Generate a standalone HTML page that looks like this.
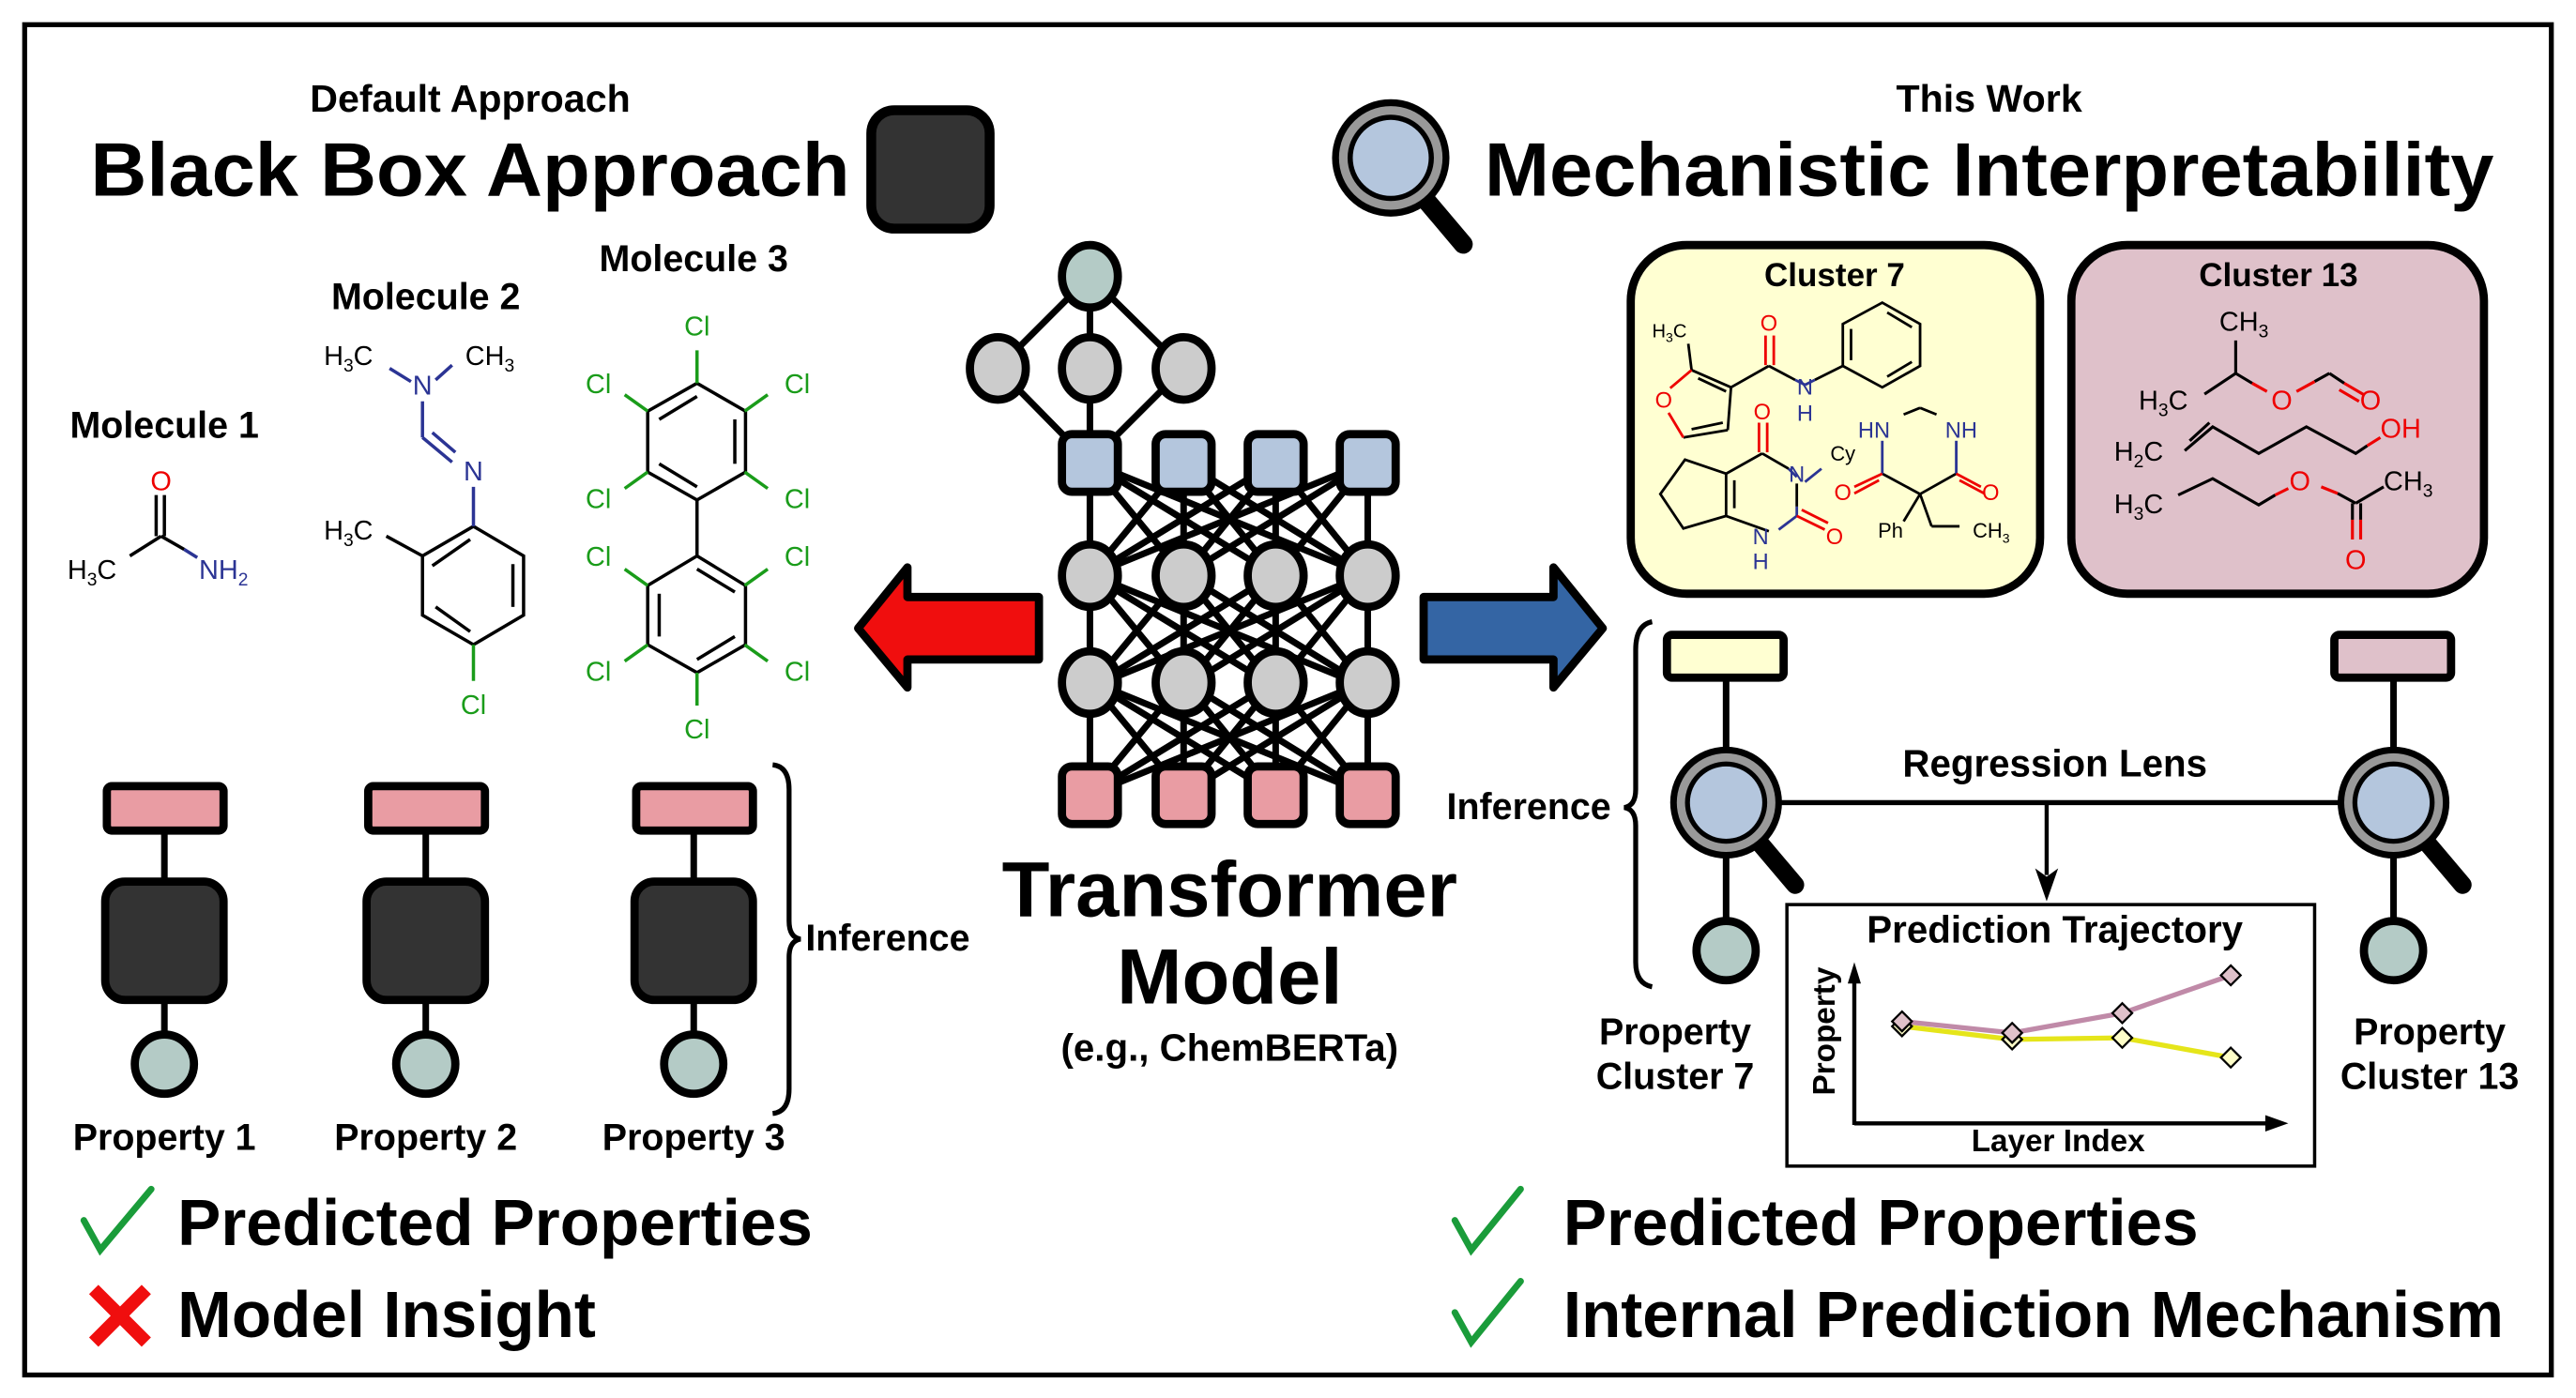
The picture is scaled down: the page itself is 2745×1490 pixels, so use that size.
<!DOCTYPE html>
<html><head><meta charset="utf-8"><style>
html,body{margin:0;padding:0;background:#fff}
svg{display:block}
text{font-family:"Liberation Sans",sans-serif}
.b{font-weight:bold}
.m{font-size:16.5px}
.c{fill:#1a9c1a}
.n{fill:#2b3494}
.o{fill:#ee0000}
</style></head><body>
<svg width="2745" height="1490" viewBox="0 0 1567 850" preserveAspectRatio="none" xmlns="http://www.w3.org/2000/svg">
<defs>
<g id="mag">
<line x1="20" y1="24" x2="42" y2="50" stroke="#000" stroke-width="11" stroke-linecap="round"/>
<circle r="34" fill="#000"/><circle r="30" fill="#999"/><circle r="25" fill="#000"/><circle r="22" fill="#b4c6dd"/>
</g>
</defs>
<rect x="15" y="15" width="1537" height="821" fill="#fff" stroke="#000" stroke-width="3"/>

<text x="286" y="68" text-anchor="middle" class="b" font-size="23.5">Default Approach</text>
<text x="55" y="119" class="b" font-size="46" textLength="462" lengthAdjust="spacingAndGlyphs">Black Box Approach</text>
<rect x="530" y="67" width="72" height="72" rx="14" fill="#333" stroke="#000" stroke-width="6"/>
<use href="#mag" transform="translate(846,96) scale(1.05)"/>
<text x="1210" y="68" text-anchor="middle" class="b" font-size="23.5">This Work</text>
<text x="903" y="119" class="b" font-size="46" textLength="614" lengthAdjust="spacingAndGlyphs">Mechanistic Interpretability</text>

<text x="100" y="266" text-anchor="middle" class="b" font-size="22.5">Molecule 1</text>
<text x="259" y="188" text-anchor="middle" class="b" font-size="22.5">Molecule 2</text>
<text x="422" y="165" text-anchor="middle" class="b" font-size="22.5">Molecule 3</text>

<g stroke="#000" stroke-width="2" fill="none">
<line x1="79" y1="338" x2="98" y2="326"/>
<line x1="98" y1="326" x2="112" y2="334" />
<line x1="95" y1="326" x2="95" y2="301"/><line x1="100" y1="326" x2="100" y2="301"/>
</g>
<line x1="112" y1="334" x2="120" y2="339" stroke="#2b3494" stroke-width="2"/>
<text x="98" y="298" text-anchor="middle" class="m o">O</text>
<text x="41" y="352" class="m">H<tspan font-size="11" dy="4">3</tspan><tspan dy="-4">C</tspan></text>
<text x="121" y="352" class="m n">NH<tspan font-size="11" dy="4">2</tspan></text>

<g stroke="#000" stroke-width="2" fill="none">
<polygon points="288,320 318.5,338 318.5,374 288,392 257,374 257,338"/>
<line x1="263" y1="344" x2="286" y2="328"/><line x1="312" y1="343" x2="312" y2="369"/><line x1="265" y1="369" x2="286" y2="384"/>
<line x1="257" y1="338" x2="235" y2="326"/>
</g>
<g stroke="#2b3494" stroke-width="2">
<line x1="237" y1="224" x2="250" y2="232"/><line x1="275" y1="222" x2="265" y2="231"/>
<line x1="257" y1="244" x2="257" y2="266"/><line x1="257" y1="266" x2="275" y2="281"/><line x1="263" y1="263" x2="277" y2="275"/>
<line x1="288" y1="296" x2="288" y2="320"/>
</g>
<line x1="288" y1="392" x2="288" y2="414" stroke="#1a9c1a" stroke-width="2"/>
<text x="197" y="222" class="m">H<tspan font-size="11" dy="4">3</tspan><tspan dy="-4">C</tspan></text>
<text x="283" y="222" class="m">CH<tspan font-size="11" dy="4">3</tspan></text>
<text x="257" y="240" text-anchor="middle" class="m n">N</text>
<text x="288" y="292" text-anchor="middle" class="m n">N</text>
<text x="197" y="328" class="m">H<tspan font-size="11" dy="4">3</tspan><tspan dy="-4">C</tspan></text>
<text x="288" y="434" text-anchor="middle" class="m c">Cl</text>

<g stroke="#000" stroke-width="2" fill="none">
<polygon points="424,233 453.5,250 453.5,287 424,304 394,287 394,250"/>
<line x1="424" y1="241" x2="401" y2="255"/><line x1="447" y1="255" x2="447" y2="282"/><line x1="401" y1="282" x2="424" y2="296"/>
<polygon points="424,338 453.5,356 453.5,392 424,409 394,392 394,356"/>
<line x1="424" y1="346" x2="447" y2="360"/><line x1="401" y1="361" x2="401" y2="387"/><line x1="447" y1="387" x2="424" y2="401"/>
<line x1="424" y1="304" x2="424" y2="338"/>
</g>
<g stroke="#1a9c1a" stroke-width="2">
<line x1="424" y1="233" x2="424" y2="213"/><line x1="394" y1="250" x2="380" y2="240"/><line x1="453" y1="250" x2="467" y2="240"/>
<line x1="394" y1="287" x2="380" y2="297"/><line x1="453" y1="287" x2="467" y2="297"/>
<line x1="394" y1="356" x2="380" y2="346"/><line x1="453" y1="356" x2="467" y2="346"/>
<line x1="394" y1="392" x2="380" y2="402"/><line x1="453" y1="392" x2="467" y2="402"/>
<line x1="424" y1="409" x2="424" y2="429"/>
</g>
<g class="m c" text-anchor="middle">
<text x="424" y="204">Cl</text><text x="364" y="239">Cl</text><text x="485" y="239">Cl</text>
<text x="364" y="309">Cl</text><text x="485" y="309">Cl</text><text x="364" y="344">Cl</text><text x="485" y="344">Cl</text>
<text x="364" y="414">Cl</text><text x="485" y="414">Cl</text><text x="424" y="449">Cl</text>
</g>

<g stroke="#000" stroke-width="4">
<line x1="100" y1="505" x2="100" y2="535"/><line x1="100" y1="608" x2="100" y2="630"/>
<line x1="259" y1="505" x2="259" y2="535"/><line x1="259" y1="608" x2="259" y2="630"/>
<line x1="422" y1="505" x2="422" y2="535"/><line x1="422" y1="608" x2="422" y2="630"/>
</g>
<g stroke="#000" stroke-width="5">
<rect x="65" y="478" width="71" height="27" rx="3" fill="#e99ca3"/>
<rect x="224" y="478" width="71" height="27" rx="3" fill="#e99ca3"/>
<rect x="387" y="478" width="71" height="27" rx="3" fill="#e99ca3"/>
<rect x="64" y="536" width="72" height="72" rx="12" fill="#333"/>
<rect x="223" y="536" width="72" height="72" rx="12" fill="#333"/>
<rect x="386" y="536" width="72" height="72" rx="12" fill="#333"/>
<circle cx="100" cy="647" r="18" fill="#b4cbc6"/>
<circle cx="259" cy="647" r="18" fill="#b4cbc6"/>
<circle cx="422" cy="647" r="18" fill="#b4cbc6"/>
</g>
<g class="b" font-size="22.5" text-anchor="middle">
<text x="100" y="699">Property 1</text><text x="259" y="699">Property 2</text><text x="422" y="699">Property 3</text>
</g>
<path d="M470,465 Q480,466 480,480 L480,560 Q480,570 487,571 Q480,572 480,582 L480,662 Q480,676 470,677" fill="none" stroke="#000" stroke-width="3"/>
<text x="490" y="578" class="b" font-size="22.5">Inference</text>

<g stroke="#000" stroke-width="4" fill="none">
<line x1="663" y1="168" x2="607" y2="224"/><line x1="663" y1="168" x2="663" y2="224"/><line x1="663" y1="168" x2="720" y2="224"/>
<line x1="607" y1="224" x2="663" y2="281"/><line x1="663" y1="224" x2="663" y2="281"/><line x1="720" y1="224" x2="663" y2="281"/>
<g id="mesh">
<line x1="663" y1="281" x2="663" y2="350"/><line x1="663" y1="281" x2="720" y2="350"/><line x1="663" y1="281" x2="776" y2="350"/><line x1="663" y1="281" x2="832" y2="350"/>
<line x1="720" y1="281" x2="663" y2="350"/><line x1="720" y1="281" x2="720" y2="350"/><line x1="720" y1="281" x2="776" y2="350"/><line x1="720" y1="281" x2="832" y2="350"/>
<line x1="776" y1="281" x2="663" y2="350"/><line x1="776" y1="281" x2="720" y2="350"/><line x1="776" y1="281" x2="776" y2="350"/><line x1="776" y1="281" x2="832" y2="350"/>
<line x1="832" y1="281" x2="663" y2="350"/><line x1="832" y1="281" x2="720" y2="350"/><line x1="832" y1="281" x2="776" y2="350"/><line x1="832" y1="281" x2="832" y2="350"/>
</g>
<use href="#mesh" transform="translate(0,68)"/>
<use href="#mesh" transform="translate(0,133)"/>
</g>
<g stroke="#000" stroke-width="5">
<ellipse cx="663" cy="168" rx="17" ry="19" fill="#b4cbc6"/>
<ellipse cx="607" cy="224" rx="17" ry="19" fill="#ccc"/><ellipse cx="663" cy="224" rx="17" ry="19" fill="#ccc"/><ellipse cx="720" cy="224" rx="17" ry="19" fill="#ccc"/>
<rect x="646" y="264" width="34" height="35" rx="6" fill="#b4c6dd"/><rect x="703" y="264" width="34" height="35" rx="6" fill="#b4c6dd"/>
<rect x="759" y="264" width="34" height="35" rx="6" fill="#b4c6dd"/><rect x="815" y="264" width="34" height="35" rx="6" fill="#b4c6dd"/>
<ellipse cx="663" cy="350" rx="17" ry="19" fill="#ccc"/><ellipse cx="720" cy="350" rx="17" ry="19" fill="#ccc"/><ellipse cx="776" cy="350" rx="17" ry="19" fill="#ccc"/><ellipse cx="832" cy="350" rx="17" ry="19" fill="#ccc"/>
<ellipse cx="663" cy="415" rx="17" ry="19" fill="#ccc"/><ellipse cx="720" cy="415" rx="17" ry="19" fill="#ccc"/><ellipse cx="776" cy="415" rx="17" ry="19" fill="#ccc"/><ellipse cx="832" cy="415" rx="17" ry="19" fill="#ccc"/>
<rect x="646" y="466" width="34" height="35" rx="6" fill="#e99ca3"/><rect x="703" y="466" width="34" height="35" rx="6" fill="#e99ca3"/>
<rect x="759" y="466" width="34" height="35" rx="6" fill="#e99ca3"/><rect x="815" y="466" width="34" height="35" rx="6" fill="#e99ca3"/>
</g>

<polygon points="522,382 552,345 552,363 632,363 632,401 552,401 552,418" fill="#f00e0e" stroke="#000" stroke-width="5" stroke-linejoin="round"/>
<polygon points="975,382 945,345 945,363 866,363 866,401 945,401 945,418" fill="#3465a4" stroke="#000" stroke-width="5" stroke-linejoin="round"/>

<text x="748" y="557" text-anchor="middle" class="b" font-size="47.5">Transformer</text>
<text x="748" y="610" text-anchor="middle" class="b" font-size="47.5">Model</text>
<text x="748" y="645" text-anchor="middle" class="b" font-size="23">(e.g., ChemBERTa)</text>

<rect x="992" y="149" width="249" height="212" rx="34" fill="#ffffd2" stroke="#000" stroke-width="5"/>
<rect x="1260" y="149" width="251" height="212" rx="34" fill="#dfc1ca" stroke="#000" stroke-width="5"/>
<text x="1116" y="174" text-anchor="middle" class="b" font-size="20">Cluster 7</text>
<text x="1386" y="174" text-anchor="middle" class="b" font-size="20">Cluster 13</text>

<g font-size="13.5">
<g stroke="#000" stroke-width="1.6" fill="none">
<line x1="1027" y1="209" x2="1029" y2="225"/>
<line x1="1029" y1="225" x2="1053" y2="235.5"/><line x1="1033" y1="230" x2="1050" y2="238"/>
<line x1="1053" y1="235.5" x2="1051" y2="261.5"/><line x1="1051" y1="261.5" x2="1024" y2="266"/><line x1="1048" y1="257" x2="1029" y2="261"/>
<line x1="1053" y1="235.5" x2="1076" y2="222.5"/><line x1="1076" y1="222.5" x2="1092" y2="231"/>
<line x1="1104" y1="231" x2="1121" y2="222.5"/>
<polygon points="1121,222.5 1121,197 1145,184 1168,197 1168,222.5 1145,235.5"/>
<line x1="1126" y1="219" x2="1126" y2="200"/><line x1="1148" y1="190" x2="1163" y2="199"/><line x1="1163" y1="220" x2="1148" y2="229"/>
<line x1="1072" y1="275.7" x2="1088" y2="285"/><line x1="1093" y1="294" x2="1093" y2="308"/>
<line x1="1076" y1="323" x2="1050" y2="313.7"/><line x1="1050" y1="313.7" x2="1050" y2="288"/><line x1="1055" y1="309" x2="1055" y2="292"/>
<line x1="1050" y1="288" x2="1072" y2="275.7"/>
<polyline points="1050,288 1025,279.5 1010,300.4 1024,321.3 1050,313.7"/>
<line x1="1145" y1="288" x2="1168" y2="300.4"/><line x1="1168" y1="300.4" x2="1190" y2="288"/>
<line x1="1168" y1="300.4" x2="1158" y2="317"/><line x1="1168" y1="300.4" x2="1175" y2="320"/><line x1="1175" y1="320" x2="1192" y2="320"/>
<line x1="1158" y1="252" x2="1168" y2="248"/><line x1="1168" y1="248" x2="1178" y2="252"/>
</g>
<g stroke="#2b3494" stroke-width="1.6">
<line x1="1092" y1="231" x2="1098" y2="234"/><line x1="1104" y1="231" x2="1098" y2="234"/>
<line x1="1088" y1="285" x2="1093" y2="290"/><line x1="1093" y1="308" x2="1093" y2="313.7"/>
<line x1="1093" y1="313.7" x2="1082" y2="322"/><line x1="1098" y1="293" x2="1108" y2="285"/>
<line x1="1145" y1="268" x2="1145" y2="288"/><line x1="1190" y1="268" x2="1190" y2="288"/>
</g>
<g stroke="#ee0000" stroke-width="1.6">
<line x1="1029" y1="225" x2="1016" y2="236"/><line x1="1024" y1="266" x2="1015" y2="251"/>
<line x1="1074" y1="222" x2="1074" y2="204"/><line x1="1079" y1="222" x2="1079" y2="204"/>
<line x1="1070" y1="275" x2="1070" y2="257"/><line x1="1075" y1="275" x2="1075" y2="257"/>
<line x1="1093" y1="313.7" x2="1110" y2="322"/><line x1="1096" y1="310" x2="1112" y2="318"/>
<line x1="1145" y1="288" x2="1128" y2="296"/><line x1="1143" y1="292" x2="1128" y2="300"/>
<line x1="1190" y1="288" x2="1205" y2="296"/><line x1="1192" y1="292" x2="1207" y2="300"/>
</g>
<text x="1005" y="205" font-size="11.5">H<tspan font-size="8" dy="3">3</tspan><tspan dy="-3">C</tspan></text>
<text x="1012" y="248" class="o" text-anchor="middle">O</text>
<text x="1076" y="201" class="o" text-anchor="middle">O</text>
<text x="1098" y="240" class="n" text-anchor="middle">N</text>
<text x="1098" y="256" class="n" text-anchor="middle">H</text>
<text x="1072" y="255" class="o" text-anchor="middle">O</text>
<text x="1093" y="293" class="n" text-anchor="middle">N</text>
<text x="1121" y="280" text-anchor="middle" font-size="12.5">Cy</text>
<text x="1071" y="331" class="n" text-anchor="middle">N</text>
<text x="1071" y="346" class="n" text-anchor="middle">H</text>
<text x="1116" y="331" class="o" text-anchor="middle">O</text>
<text x="1140" y="266" class="n" text-anchor="middle">HN</text>
<text x="1193" y="266" class="n" text-anchor="middle">NH</text>
<text x="1121" y="304" class="o" text-anchor="middle">O</text>
<text x="1211" y="304" class="o" text-anchor="middle">O</text>
<text x="1150" y="327" text-anchor="middle" font-size="12.5">Ph</text>
<text x="1200" y="327" font-size="12.5">CH<tspan font-size="8" dy="3">3</tspan></text>

<g stroke="#000" stroke-width="1.8" fill="none">
<line x1="1360" y1="207" x2="1360" y2="227"/><line x1="1341" y1="239.6" x2="1360" y2="227"/><line x1="1360" y1="227" x2="1370" y2="233"/>
<line x1="1408" y1="232" x2="1417" y2="227"/><line x1="1417" y1="227" x2="1426" y2="233"/>
<polyline points="1329,274 1346,259.5 1374,275.7 1403,259.5 1433,275.7 1440,271"/>
<line x1="1332" y1="268" x2="1344" y2="257"/>
<polyline points="1325,301 1346,291 1374,307 1384,301"/>
<line x1="1422" y1="300" x2="1433" y2="306"/><line x1="1433" y1="306" x2="1450" y2="296"/><line x1="1431" y1="306" x2="1431" y2="316"/><line x1="1436" y1="306" x2="1436" y2="316"/>
</g>
<g stroke="#ee0000" stroke-width="1.8">
<line x1="1370" y1="233" x2="1379" y2="238"/><line x1="1397" y1="238" x2="1408" y2="232"/>
<line x1="1426" y1="233" x2="1438" y2="240"/><line x1="1423" y1="237" x2="1435" y2="244"/>
<line x1="1440" y1="271" x2="1448" y2="266"/>
<line x1="1384" y1="301" x2="1392" y2="297"/><line x1="1412" y1="296" x2="1422" y2="300"/>
<line x1="1431" y1="316" x2="1431" y2="328"/><line x1="1436" y1="316" x2="1436" y2="328"/>
</g>
<text x="1350" y="201" font-size="16.5">CH<tspan font-size="11" dy="4">3</tspan></text>
<text x="1301" y="249" font-size="16.5">H<tspan font-size="11" dy="4">3</tspan><tspan dy="-4">C</tspan></text>
<text x="1388" y="249" font-size="16.5" class="o" text-anchor="middle">O</text>
<text x="1442" y="249" font-size="16.5" class="o" text-anchor="middle">O</text>
<text x="1286" y="280" font-size="16.5">H<tspan font-size="11" dy="4">2</tspan><tspan dy="-4">C</tspan></text>
<text x="1448" y="266" font-size="16.5" class="o">OH</text>
<text x="1286" y="312" font-size="16.5">H<tspan font-size="11" dy="4">3</tspan><tspan dy="-4">C</tspan></text>
<text x="1399" y="298" font-size="16.5" class="o" text-anchor="middle">O</text>
<text x="1450" y="298" font-size="16.5">CH<tspan font-size="11" dy="4">3</tspan></text>
<text x="1433" y="346" font-size="16.5" class="o" text-anchor="middle">O</text>
</g>

<path d="M1005,378 Q995,380 995,395 L995,480 Q995,490 988,491 Q995,492 995,502 L995,585 Q995,598 1005,600" fill="none" stroke="#000" stroke-width="3"/>
<text x="880" y="498" class="b" font-size="22.5">Inference</text>
<g stroke="#000" stroke-width="4">
<line x1="1050" y1="412" x2="1050" y2="460"/><line x1="1050" y1="515" x2="1050" y2="562"/>
<line x1="1456" y1="412" x2="1456" y2="460"/><line x1="1456" y1="515" x2="1456" y2="562"/>
<line x1="1082" y1="488" x2="1424" y2="488" stroke-width="3"/>
<line x1="1245" y1="488" x2="1245" y2="532" stroke-width="2.5"/>
</g>
<polygon points="1238,528 1245,548 1252,528 1245,533" fill="#000"/>
<rect x="1014" y="386" width="71" height="26" rx="3" fill="#ffffd2" stroke="#000" stroke-width="5"/>
<rect x="1420" y="386" width="71" height="26" rx="3" fill="#dfc1ca" stroke="#000" stroke-width="5"/>
<use href="#mag" transform="translate(1050,488)"/>
<use href="#mag" transform="translate(1456,488)"/>
<circle cx="1050" cy="578" r="18" fill="#b4cbc6" stroke="#000" stroke-width="5"/>
<circle cx="1456" cy="578" r="18" fill="#b4cbc6" stroke="#000" stroke-width="5"/>
<text x="1250" y="472" text-anchor="middle" class="b" font-size="23">Regression Lens</text>
<g class="b" font-size="22.5" text-anchor="middle">
<text x="1019" y="635">Property</text><text x="1019" y="662">Cluster 7</text>
<text x="1478" y="635">Property</text><text x="1478" y="662">Cluster 13</text>
</g>

<rect x="1087" y="550" width="321" height="159" fill="#fff" stroke="#000" stroke-width="2"/>
<text x="1250" y="573" text-anchor="middle" class="b" font-size="23">Prediction Trajectory</text>
<g stroke="#000" stroke-width="2.5">
<line x1="1128" y1="684" x2="1128" y2="595"/><line x1="1128" y1="683" x2="1380" y2="683"/>
</g>
<polygon points="1124,598 1128,585 1132,598" fill="#000"/>
<polygon points="1378,678 1392,683 1378,688" fill="#000"/>
<text x="1252" y="700" text-anchor="middle" class="b" font-size="19">Layer Index</text>
<text transform="translate(1116,627) rotate(-90)" text-anchor="middle" class="b" font-size="19">Property</text>
<polyline points="1157,624 1224,632 1291,631 1357,643" fill="none" stroke="#e5e51a" stroke-width="3"/>
<polyline points="1157,621 1224,628 1291,616 1357,593" fill="none" stroke="#c08aa8" stroke-width="3"/>
<g stroke="#000" stroke-width="1.3">
<g fill="#ffffc8">
<polygon points="1157,618 1163,624 1157,630 1151,624"/><polygon points="1224,626 1230,632 1224,638 1218,632"/>
<polygon points="1291,625 1297,631 1291,637 1285,631"/><polygon points="1357,637 1363,643 1357,649 1351,643"/>
</g>
<g fill="#dfc1ca">
<polygon points="1157,615 1163,621 1157,627 1151,621"/><polygon points="1224,622 1230,628 1224,634 1218,628"/>
<polygon points="1291,610 1297,616 1291,622 1285,616"/><polygon points="1357,587 1363,593 1357,599 1351,593"/>
</g>
</g>

<g fill="none" stroke="#1a9c3a" stroke-width="4" stroke-linecap="round">
<path d="M51,742 L61,760 L92,723"/>
<path d="M885,742 L895,760 L925,723"/>
<path d="M885,798 L895,816 L925,779"/>
</g>
<g stroke="#f00e0e" stroke-width="8">
<line x1="57" y1="784" x2="89" y2="816"/><line x1="89" y1="784" x2="57" y2="816"/>
</g>
<g class="b" font-size="39.5">
<text x="108" y="757">Predicted Properties</text>
<text x="108" y="813">Model Insight</text>
<text x="951" y="757">Predicted Properties</text>
<text x="951" y="813" textLength="572" lengthAdjust="spacingAndGlyphs">Internal Prediction Mechanism</text>
</g>
</svg>
</body></html>
